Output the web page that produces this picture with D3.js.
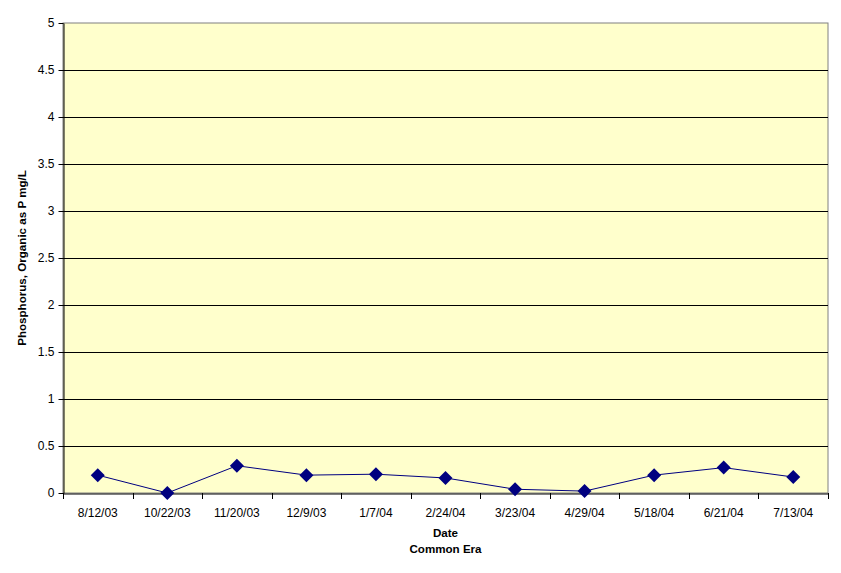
<!DOCTYPE html>
<html><head><meta charset="utf-8">
<script src="https://cdn.jsdelivr.net/npm/d3@7"></script>
<style>body{margin:0;background:#fff}svg{display:block}text{font-family:"Liberation Sans",Arial,sans-serif}</style>
</head><body>
<script>
const categories = ["8/12/03","10/22/03","11/20/03","12/9/03","1/7/04","2/24/04","3/23/04","4/29/04","5/18/04","6/21/04","7/13/04"];
const values = [0.19,0.0,0.29,0.19,0.2,0.16,0.04,0.02,0.19,0.27,0.17];
const yTicks = [0,0.5,1,1.5,2,2.5,3,3.5,4,4.5,5];
const yTickLabels = ["0","0.5","1","1.5","2","2.5","3","3.5","4","4.5","5"];
const yTitle = "Phosphorus, Organic as P mg/L";
const xTitle1 = "Date";
const xTitle2 = "Common Era";

const W=841,H=573, L=63, R=828, T=23, B=493;
const svg=d3.select("body").append("svg").attr("width",W).attr("height",H);
const x=d3.scaleBand().domain(categories).range([L,R]);
const y=d3.scaleLinear().domain([0,5]).range([B,T]);

svg.append("rect").attr("x",L).attr("y",T).attr("width",R-L).attr("height",B-T).attr("fill","#FFFFCC").attr("stroke","#808080").attr("stroke-width",1);

// gridlines
svg.append("g").selectAll("line").data(yTicks.filter(d=>d>0&&d<5)).join("line")
 .attr("x1",L).attr("x2",R).attr("y1",d=>Math.round(y(d))+0.5).attr("y2",d=>Math.round(y(d))+0.5)
 .attr("stroke","#000").attr("stroke-width",1);

// y axis
const ya=svg.append("g").attr("transform",`translate(${L+0.5},0)`)
 .call(d3.axisLeft(y).tickValues(yTicks).tickFormat((d,i)=>yTickLabels[i]).tickSize(5).tickSizeOuter(0));
ya.select(".domain").attr("stroke","#000");
ya.selectAll(".tick line").attr("stroke","#000");
ya.selectAll("text").attr("font-size","12px").attr("fill","#000").attr("x",-9);

// x axis
const xa=svg.append("g").attr("transform",`translate(0,${B+0.5})`)
 .call(d3.axisBottom(x).tickSize(0).tickSizeOuter(0));
xa.select(".domain").attr("stroke","#000");
xa.selectAll("text").attr("font-size","12px").attr("fill","#000").attr("dy","0").attr("y",23);
const bounds=categories.map(c=>x(c)).concat([R]);
svg.append("g").selectAll("line").data(bounds).join("line")
 .attr("x1",d=>Math.round(d)+0.5).attr("x2",d=>Math.round(d)+0.5).attr("y1",B).attr("y2",B+6).attr("stroke","#000");

// line
const cx=d=>x(d)+x.bandwidth()/2;
svg.append("path").datum(values).attr("fill","none").attr("stroke","#000080").attr("stroke-width",1)
 .attr("d",d3.line().x((d,i)=>cx(categories[i])).y(d=>y(d)));
svg.append("g").selectAll("path").data(values).join("path")
 .attr("transform",(d,i)=>`translate(${cx(categories[i])},${y(d)})`)
 .attr("d","M0,-7L7,0L0,7L-7,0Z").attr("fill","#000080");

// titles
svg.append("text").attr("x",(L+R)/2).attr("y",537).attr("text-anchor","middle").attr("font-size","11.6px").attr("font-weight","bold").text(xTitle1);
svg.append("text").attr("x",(L+R)/2).attr("y",553).attr("text-anchor","middle").attr("font-size","11.6px").attr("font-weight","bold").text(xTitle2);
svg.append("text").attr("transform",`translate(26,${(T+B)/2}) rotate(-90)`).attr("text-anchor","middle").attr("font-size","11.6px").attr("font-weight","bold").text(yTitle);
</script>
</body></html>
